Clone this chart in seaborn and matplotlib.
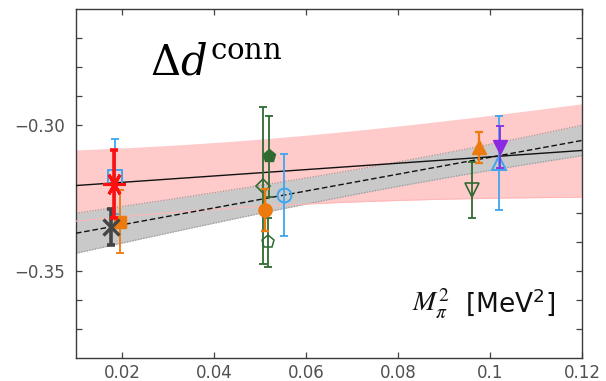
import numpy as np
import pandas as pd
import matplotlib
matplotlib.use("Agg")
import matplotlib.pyplot as plt
import seaborn as sns

# ---- lattice data points: M_pi^2 vs Delta d (connected) ----
x_vals = [0.0183, 0.0185, 0.0196, 0.0176,
          0.0506, 0.0519, 0.0510, 0.0518, 0.0553,
          0.0960, 0.0977, 0.1022, 0.1020]
y_vals = [-0.3201, -0.3176, -0.3331, -0.3351,
          -0.3207, -0.3107, -0.3291, -0.3402, -0.3241,
          -0.3223, -0.3076, -0.3074, -0.3129]
y_errs = [0.0117, 0.0128, 0.0108, 0.0062,
          0.0269, 0.0140, 0.0072, 0.0085, 0.0141,
          0.0096, 0.0053, 0.0072, 0.0161]

# ---- linear fits: intercept, slope, band half-width parameters ----
fit_solid = dict(a=-0.3218, b=0.1096, w0=0.0115, x0=0.040, k=0.140)
fit_dashed = dict(a=-0.3400, b=0.2900, w0=0.0042, x0=0.080, k=0.0782)

x_ticks = [0.02, 0.04, 0.06, 0.08, 0.10, 0.12]
x_ticklabels = ["0.02", "0.04", "0.06", "0.08", "0.1", "0.12"]
y_ticks = [-0.37, -0.36, -0.35, -0.34, -0.33, -0.32, -0.31, -0.30, -0.29, -0.28, -0.27]
y_labeled = {-0.30: "\u22120.30", -0.35: "\u22120.35"}

# marker styles for each ensemble (z = drawing order)
RED, BLUE, ORANGE, GRAY = "#ff1010", "#3ea6ee", "#ec7a0c", "#454545"
GREEN, PURPLE = "#2f6a31", "#8a2be2"
styles = [
    dict(marker=(6, 2, 30), color=RED, fill=True, ms=16, mew=2.2, lw=2.6, z=9),
    dict(marker="s", color=BLUE, fill=False, ms=9.5, mew=1.4, lw=1.3, z=5),
    dict(marker="s", color=ORANGE, fill=True, ms=8.5, mew=1.0, lw=1.3, z=6),
    dict(marker="x", color=GRAY, fill=True, ms=11, mew=2.4, lw=2.6, z=7),
    dict(marker="D", color=GREEN, fill=False, ms=7.5, mew=1.2, lw=1.3, z=5),
    dict(marker="p", color=GREEN, fill=True, ms=9.5, mew=1.0, lw=1.3, z=5),
    dict(marker="o", color=ORANGE, fill=True, ms=9.5, mew=1.0, lw=1.7, z=6),
    dict(marker="p", color=GREEN, fill=False, ms=9.5, mew=1.1, lw=1.3, z=5),
    dict(marker="o", color=BLUE, fill=False, ms=10, mew=1.4, lw=1.3, z=5),
    dict(marker="v", color=GREEN, fill=False, ms=10, mew=1.2, lw=1.3, z=5),
    dict(marker="^", color=ORANGE, fill=True, ms=9.5, mew=1.0, lw=1.6, z=5),
    dict(marker="v", color=PURPLE, fill=True, ms=9.5, mew=1.0, lw=1.3, z=6),
    dict(marker="^", color=BLUE, fill=False, ms=10, mew=1.4, lw=1.3, z=5),
]

sns.set_theme(style="ticks")
plt.rcParams["font.family"] = ["DejaVu Sans"]

fig = plt.figure(figsize=(6.06, 3.81), dpi=100)
ax = fig.add_axes([0.1254, 0.0604, 0.8350, 0.9160])

xs = np.linspace(0.01, 0.12, 200)


def fit_curve(p):
    mid = p["a"] + p["b"] * xs
    half = np.sqrt(p["w0"] ** 2 + (p["k"] * (xs - p["x0"])) ** 2)
    return mid, mid - half, mid + half


mid_s, lo_s, hi_s = fit_curve(fit_solid)
mid_d, lo_d, hi_d = fit_curve(fit_dashed)

ax.fill_between(xs, lo_s, hi_s, color="#ffcaca", lw=0, zorder=1)
ax.fill_between(xs, lo_d, hi_d, color="#c9c9c9", lw=0, zorder=2)
ax.plot(xs, lo_d, color="#9a9a9a", lw=0.9, ls=(0, (1, 1.2)), zorder=2.5)
ax.plot(xs, hi_d, color="#9a9a9a", lw=0.9, ls=(0, (1, 1.2)), zorder=2.5)
ax.plot(xs, lo_s, color="#ffb8b8", lw=0.8, zorder=2.6)

fits = pd.DataFrame({"x": np.concatenate([xs, xs]),
                     "y": np.concatenate([mid_s, mid_d]),
                     "fit": ["solid"] * len(xs) + ["dashed"] * len(xs)})
sns.lineplot(data=fits, x="x", y="y", style="fit", color="#111111",
             dashes={"solid": "", "dashed": (4, 2)}, linewidth=1.0,
             legend=False, ax=ax, zorder=3)

for x, y, e, st in zip(x_vals, y_vals, y_errs, styles):
    ax.errorbar(x, y, yerr=e, fmt="none", ecolor=st["color"],
                elinewidth=st["lw"], capsize=2.8, capthick=st["lw"],
                zorder=st["z"] - 0.5)
    ax.plot(x, y, linestyle="none", marker=st["marker"], ms=st["ms"],
            mec=st["color"], mew=st["mew"],
            mfc=st["color"] if st["fill"] else "none",
            zorder=st["z"])

ax.set_xlim(0.01, 0.12)
ax.set_ylim(-0.38, -0.26)
ax.set_xticks(x_ticks)
ax.set_xticklabels(x_ticklabels)
ax.set_yticks(y_ticks)
ax.set_yticklabels([y_labeled.get(round(t, 2), "") for t in y_ticks])
ax.set_xlabel("")
ax.set_ylabel("")

ax.tick_params(direction="in", length=4.5, width=0.9, color="#444444",
               top=True, right=True, labelsize=12, labelcolor="#505050")
ax.tick_params(axis="x", pad=4)
ax.tick_params(axis="y", pad=8)
for sp in ax.spines.values():
    sp.set_color("#3a3a3a")
    sp.set_linewidth(1.0)

ax.text(0.147, 0.811, r"$\mathrm{\Delta}d^{\mathrm{conn}}$", transform=ax.transAxes,
        fontsize=30, math_fontfamily="dejavuserif", ha="left", va="baseline",
        color="black")
ax.text(0.664, 0.133, r"$M_\pi^2$", transform=ax.transAxes, fontsize=20,
        math_fontfamily="stix", ha="left", va="baseline", color="#111111")
ax.text(0.9466, 0.133, r"[MeV$^2$]", transform=ax.transAxes, fontsize=19,
        family=["DejaVu Sans"], math_fontfamily="dejavusans",
        ha="right", va="baseline", color="#111111")

fig.savefig("out.png", dpi=100)
